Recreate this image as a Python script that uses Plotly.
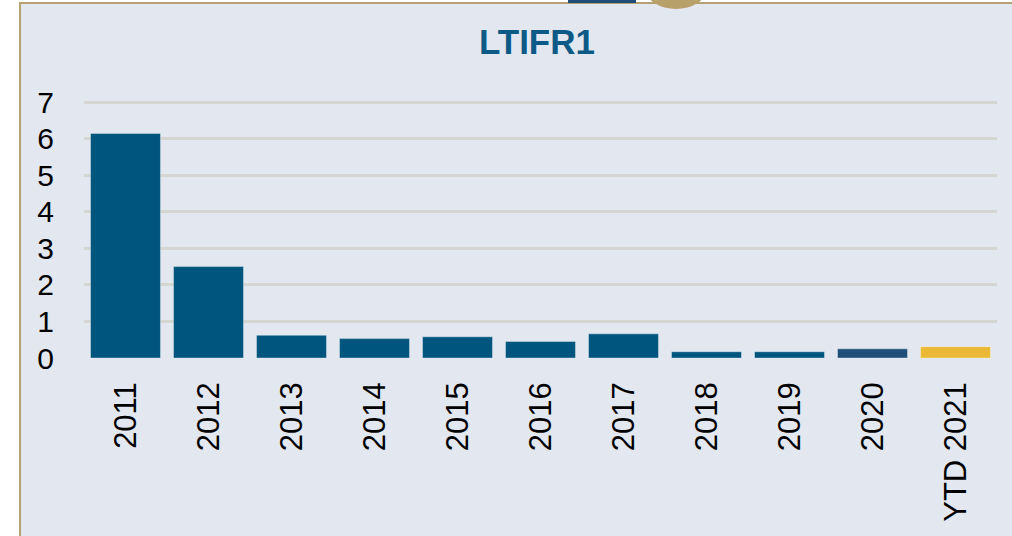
import plotly.graph_objects as go

categories = ["2011", "2012", "2013", "2014", "2015", "2016", "2017", "2018", "2019", "2020", "YTD 2021"]
values = [6.14, 2.50, 0.62, 0.53, 0.58, 0.45, 0.66, 0.17, 0.17, 0.25, 0.31]
bar_colors = ["#00557F"] * 9 + ["#1F4E79", "#EBB935"]
y_ticks = [0, 1, 2, 3, 4, 5, 6, 7]

W, H = 1012, 536
L, R, T, B = 84, 15, 98, 178
pw, ph = W - L - R, H - T - B

def px_x(x):
    return (x - L) / pw

def px_y(y):
    return (H - B - y) / ph

fig = go.Figure()
fig.add_trace(go.Bar(
    x=categories, y=values,
    marker=dict(color=bar_colors, line=dict(color="rgba(255,255,255,0.35)", width=1)),
    showlegend=False,
))

shapes = [
    # panel background
    dict(type="rect", xref="paper", yref="paper", layer="below",
         x0=px_x(20), x1=px_x(1040), y0=px_y(570), y1=px_y(3),
         fillcolor="#E3E8F0", line=dict(color="#B5A172", width=2)),
    # logo fragments
    dict(type="rect", xref="paper", yref="paper", layer="above",
         x0=px_x(568), x1=px_x(636), y0=px_y(3), y1=px_y(-5),
         fillcolor="#1E4E78", line=dict(width=0)),
    dict(type="circle", xref="paper", yref="paper", layer="above",
         x0=px_x(646), x1=px_x(706), y0=px_y(9), y1=px_y(-30),
         fillcolor="#B8A06A", line=dict(width=0)),
]

fig.update_layout(
    width=W, height=H,
    margin=dict(l=L, r=R, t=T, b=B),
    paper_bgcolor="white",
    plot_bgcolor="rgba(0,0,0,0)",
    bargap=0.157,
    shapes=shapes,
    title=dict(text="<b>LTIFR1</b>", x=537 / W, xanchor="center",
               y=1 - 42 / H, yanchor="middle", yref="container",
               font=dict(family="Liberation Sans, Arial", size=35, color="#0E5A87")),
    font=dict(family="Liberation Sans, Arial", color="black"),
)
fig.update_yaxes(range=[0, 7.11], tickvals=y_ticks, showgrid=True, gridcolor="#D5D6D1",
                 gridwidth=3, zeroline=False, showline=False,
                 tickfont=dict(size=30, color="black"), ticklabelstandoff=29)
fig.update_xaxes(tickangle=-90, showline=False, showgrid=False,
                 tickfont=dict(size=31, color="black"), ticklabelstandoff=17)

fig.write_html("out.html", config={"displayModeBar": False},
               post_script="document.body.style.margin='0';document.body.style.overflow='hidden';")
